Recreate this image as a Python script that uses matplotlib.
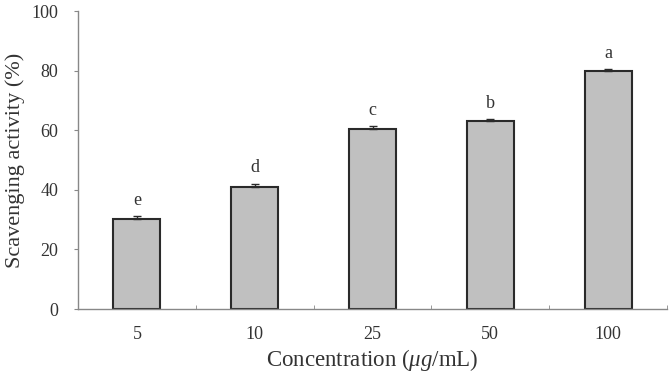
import matplotlib
matplotlib.use("Agg")
import matplotlib.pyplot as plt
import numpy as np

categories = ["5", "10", "25", "50", "100"]
values = [30.1, 41.0, 60.3, 63.2, 80.0]
errors = [1.1, 1.1, 1.1, 0.5, 0.5]
letters = ["e", "d", "c", "b", "a"]

plt.rcParams['font.family'] = ['Liberation Serif', 'DejaVu Serif']
plt.rcParams['mathtext.fontset'] = 'custom'
plt.rcParams['mathtext.rm'] = 'Liberation Serif'
plt.rcParams['mathtext.it'] = 'Liberation Serif:italic'

fig = plt.figure(figsize=(6.71, 3.73), dpi=100)
ax = fig.add_axes([78/671, 1-309/373, 589/671, 298/373])

x = np.arange(len(categories))
ax.bar(x, values, width=0.4, color="#c0c0c0", edgecolor="#2a2a2a", linewidth=1.5, zorder=2)
ax.errorbar(x, values, yerr=[np.zeros(len(errors)), errors], fmt="none",
            ecolor="#2a2a2a", elinewidth=1.0, capsize=3, capthick=1.0, zorder=3)
for xi, v, e, l in zip(x, values, errors, letters):
    ax.text(xi, v + e + 2.5, l, ha="center", va="bottom", fontsize=13, color="#333333")

ax.set_xlim(-0.5, len(categories) - 0.5)
ax.set_ylim(0, 100)
ax.set_yticks([0, 20, 40, 60, 80, 100])
ax.set_xticks(x)
ax.set_xticklabels(categories)
ax.set_xticks(np.arange(-0.5, len(categories)), minor=True)
ax.tick_params(axis="x", which="major", length=0, pad=12, labelsize=13, labelcolor="#333333")
ax.tick_params(axis="x", which="minor", direction="in", length=3, color="#888888")
ax.tick_params(axis="y", direction="out", length=3, color="#888888", labelsize=13, labelcolor="#333333", pad=11)

for s in ["top", "right"]:
    ax.spines[s].set_visible(False)
for s in ["left", "bottom"]:
    ax.spines[s].set_color("#888888")
    ax.spines[s].set_linewidth(1.0)

ax.set_xlabel("Concentration ($\\mathit{\\mu g}$/mL)", fontsize=16.5, color="#333333")
ax.xaxis.set_label_coords(0.5, (309 - 347) / 298)
ax.set_ylabel("Scavenging activity (%)", fontsize=16, color="#333333")
ax.yaxis.set_label_coords((25 - 78) / 589, 0.5)

fig.savefig("out.png", dpi=100)
